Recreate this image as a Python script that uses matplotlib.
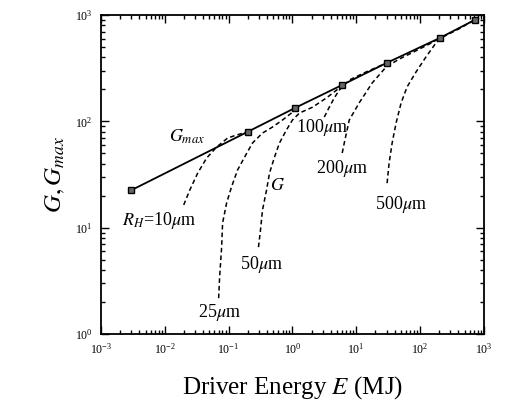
"""
Gain curves G and maximum gain G_max versus driver energy (log-log).
"""

import matplotlib
matplotlib.use('Agg')
import matplotlib.pyplot as plt

# constants
# maximum gain line (square markers)
GMAX_E = [0.003, 0.2, 1.1, 6.0, 30.0, 205.0, 720.0]
GMAX_G = [22.6, 80.0, 134.0, 220.0, 355.0, 610.0, 900.0]

# gain curves for different hot spot radii (dashed)
G10_E = [0.0198, 0.0246, 0.0328, 0.0453, 0.0649, 0.0964, 0.133, 0.2]
G10_G = [16.4, 22.6, 32.7, 45.3, 57.4, 69.8, 74.5, 80.0]

G25_E = [0.0698, 0.0723, 0.0778, 0.0805, 0.0931, 0.111, 0.138, 0.178,
         0.237, 0.340, 0.486, 0.698, 1.0, 1.1]
G25_G = [2.18, 3.44, 6.58, 11.1, 17.1, 24.2, 34.9, 46.2,
         62.7, 77.8, 88.5, 103.0, 122.0, 134.0]

G50_E = [0.294, 0.316, 0.340, 0.393, 0.438, 0.524, 0.627, 0.805,
         1.0, 1.29, 2.06, 3.40, 5.42, 6.0]
G50_G = [6.58, 9.5, 14.7, 22.6, 32.7, 46.2, 62.7, 83.0,
         103.0, 120.0, 136.0, 166.0, 206.0, 220.0]

G100_E = [3.16, 3.78, 4.53, 5.42, 7.78, 14.3, 25.5, 30.0]
G100_G = [110.0, 136.0, 166.0, 197.0, 245.0, 292.0, 340.0, 355.0]

G200_E = [6.04, 6.50, 7.78, 11.1, 17.8, 29.4, 47.0, 86.7, 154.0, 206.0]
G200_G = [50.5, 62.7, 103.0, 149.0, 230.0, 325.0, 385.0, 462.0, 550.0, 610.0]

G500_E = [30.5, 32.8, 36.6, 42.2, 50.5, 62.7, 86.7, 124.0, 178.0, 213.0,
          407.0, 720.0]
G500_G = [26.3, 40.6, 62.7, 96.6, 149.0, 211.0, 292.0, 404.0, 547.0, 610.0,
          741.0, 900.0]

CURVES = [(G10_E, G10_G), (G25_E, G25_G), (G50_E, G50_G),
          (G100_E, G100_G), (G200_E, G200_G), (G500_E, G500_G)]

# curve labels: text, E, G
LABELS = [
    (r'$G_{max}$', 0.022, 71.0),
    (r'$G$', 0.59, 25.0),
    (r'$R_H$=10$\mu$m', 0.0083, 11.8),
    (r'25$\mu$m', 0.072, 1.6),
    (r'50$\mu$m', 0.33, 4.5),
    (r'100$\mu$m', 2.9, 87.0),
    (r'200$\mu$m', 6.0, 36.0),
    (r'500$\mu$m', 50.0, 16.4),
]


def main():
    plt.rcParams['font.family'] = 'Liberation Serif'
    plt.rcParams['mathtext.fontset'] = 'stix'

    fig = plt.figure(figsize=(5.05, 4.08), dpi=100)
    ax = fig.add_axes([0.2, 0.181, 0.758, 0.782])

    # dashed gain curves
    for e, g in CURVES:
        ax.plot(e, g, color='black', linestyle=(0, (3, 2)), linewidth=1.1)

    # G_max line
    ax.plot(GMAX_E, GMAX_G, color='black', linewidth=1.3, marker='s',
            markersize=5, markerfacecolor='#666666', markeredgecolor='black',
            markeredgewidth=1.0)

    for text, e, g in LABELS:
        ax.text(e, g, text, fontsize=13, ha='center', va='center')

    ax.set_xscale('log')
    ax.set_yscale('log')
    ax.set_xlim(1e-3, 1e3)
    ax.set_ylim(1, 1e3)

    ax.tick_params(which='both', direction='in', top=True, right=True,
                   labelsize=8.5, width=1.0)
    ax.tick_params(which='major', length=6, pad=6)
    ax.tick_params(which='minor', length=3)
    for spine in ax.spines.values():
        spine.set_linewidth(1.3)

    ax.set_xlabel(r'Driver Energy $E$ (MJ)', fontsize=18, labelpad=12)
    ax.set_ylabel(r'$G, G_{max}$', fontsize=18, labelpad=6)

    plt.savefig('out.png', dpi=100)


if __name__ == "__main__":
    main()
